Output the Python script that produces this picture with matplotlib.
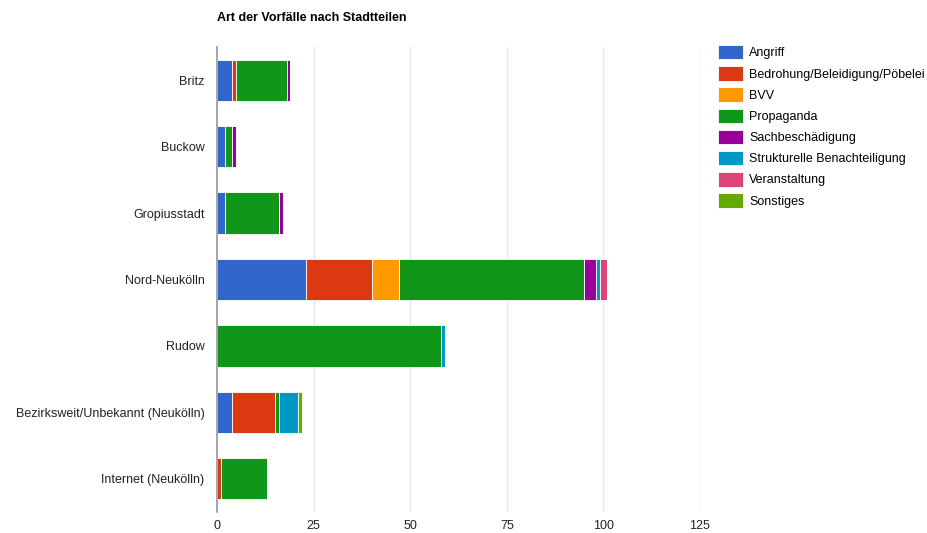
import numpy as np
import matplotlib.pyplot as plt

plt.rcParams['font.family'] = ['Liberation Sans', 'DejaVu Sans']

districts = ['Britz', 'Buckow', 'Gropiusstadt', 'Nord-Neukölln', 'Rudow',
             'Bezirksweit/Unbekannt (Neukölln)', 'Internet (Neukölln)']
categories = ['Angriff', 'Bedrohung/Beleidigung/Pöbelei', 'BVV', 'Propaganda',
              'Sachbeschädigung', 'Strukturelle Benachteiligung', 'Veranstaltung',
              'Sonstiges']

# one list per category, values in order of districts
angriff = [4, 2, 2, 23, 0, 4, 0]
bedrohung = [1, 0, 0, 17, 0, 11, 1]
bvv = [0, 0, 0, 7, 0, 0, 0]
propaganda = [13, 2, 14, 48, 58, 1, 12]
sachbeschaedigung = [1, 1, 1, 3, 0, 0, 0]
strukturell = [0, 0, 0, 1, 1, 5, 0]
veranstaltung = [0, 0, 0, 2, 0, 0, 0]
sonstiges = [0, 0, 0, 0, 0, 1, 0]

series = [angriff, bedrohung, bvv, propaganda, sachbeschaedigung,
          strukturell, veranstaltung, sonstiges]
colors = ['#3366cc', '#dc3912', '#ff9900', '#109618', '#990099',
          '#0099c6', '#dd4477', '#66aa00']

fig = plt.figure(figsize=(9.27, 5.33), dpi=100)
ax = fig.add_axes([217 / 927, 1 - 512 / 533, (700 - 217) / 927, (512 - 47) / 533])

y = np.arange(len(districts))
left = np.zeros(len(districts))
for vals, col, lab in zip(series, colors, categories):
    vals = np.array(vals, dtype=float)
    ax.barh(y, vals, left=left, height=0.62, color=col, label=lab,
            edgecolor='white', linewidth=0.6)
    left += vals

ax.set_ylim(len(districts) - 0.5, -0.5)
ax.set_xlim(0, 125)
ax.set_xticks([0, 25, 50, 75, 100, 125])
ax.set_yticks(y)
ax.set_yticklabels(districts)
ax.tick_params(axis='both', length=0, labelsize=9, colors='#222222')
ax.tick_params(axis='y', pad=9)
ax.tick_params(axis='x', pad=6)
ax.xaxis.grid(True, color='#e6e6e6', linewidth=1)
ax.set_axisbelow(True)
for s in ['top', 'right', 'bottom']:
    ax.spines[s].set_visible(False)
ax.spines['left'].set_color('#999999')
ax.spines['left'].set_linewidth(1.2)

fig.text(217 / 927, 1 - 18 / 533, 'Art der Vorfälle nach Stadtteilen',
         fontsize=9, fontweight='bold', color='#000000', va='center', ha='left')

fig.legend(loc='upper left', bbox_to_anchor=(713 / 927, 1 - 40 / 533),
           frameon=False, fontsize=9, handlelength=2.0, handleheight=1.4,
           labelspacing=0.54, handletextpad=0.5, borderaxespad=0)

fig.savefig('out.png', dpi=100)
